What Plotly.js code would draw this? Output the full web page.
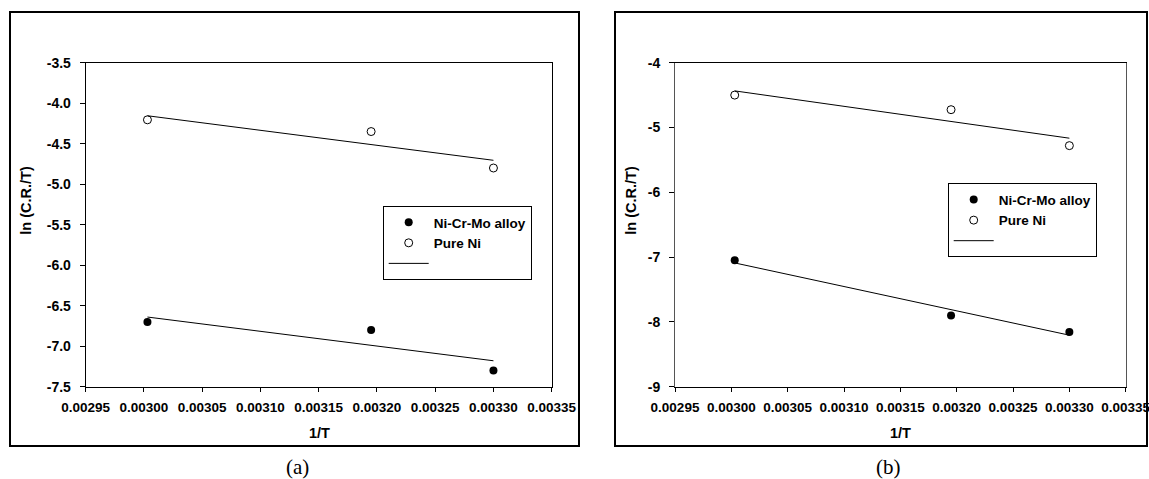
<!DOCTYPE html>
<html><head><meta charset="utf-8">
<script src="https://cdn.plot.ly/plotly-3.0.1.min.js"></script>
<style>html,body{margin:0;padding:0;background:#fff}#chart{width:1149px;height:479px}</style>
</head><body><div id="chart"></div>
<script>
// ---- data ----
const invT = [0.003003, 0.003195, 0.0033];
const fitX = [0.003003, 0.0033];
// panel (a)
const alloyA = [-6.70, -6.80, -7.30];
const pureNiA = [-4.205, -4.35, -4.80];
const fitAlloyA = [-6.64, -7.18];
const fitPureNiA = [-4.155, -4.705];
// panel (b)
const alloyB = [-7.05, -7.90, -8.155];
const pureNiB = [-4.50, -4.725, -5.28];
const fitAlloyB = [-7.09, -8.205];
const fitPureNiB = [-4.435, -5.165];
// ticks / labels
const xTickVals = [0.00295, 0.0030, 0.00305, 0.0031, 0.00315, 0.0032, 0.00325, 0.0033, 0.00335];
const xTickText = ['0.00295', '0.00300', '0.00305', '0.00310', '0.00315', '0.00320', '0.00325', '0.00330', '0.00335'];
const yTickValsA = [-7.5, -7.0, -6.5, -6.0, -5.5, -5.0, -4.5, -4.0, -3.5];
const yTickTextA = ['-7.5', '-7.0', '-6.5', '-6.0', '-5.5', '-5.0', '-4.5', '-4.0', '-3.5'];
const yTickValsB = [-9, -8, -7, -6, -5, -4];
const yTickTextB = ['-9', '-8', '-7', '-6', '-5', '-4'];
const seriesNames = ['Ni-Cr-Mo alloy', 'Pure Ni'];
const panelLabels = ['(a)', '(b)'];
const xTitle = '1/T';
const yTitle = 'ln (C.R./T)';

// ---- styling / layout ----
const W = 1149, H = 479;
const px = v => v / W;
const py = v => 1 - v / H;
const B = s => '<b>' + s + '</b>';
const SANS = 'Liberation Sans, Arial, sans-serif';
const SERIF = 'Liberation Serif, Times New Roman, serif';

function panelTraces(alloy, pure, fitAlloy, fitPure, xa, ya, lg) {
  return [
    {x: invT, y: alloy, xaxis: xa, yaxis: ya, legend: lg, name: B(seriesNames[0]), type: 'scatter', mode: 'markers',
     marker: {symbol: 'circle', size: 8, color: '#000', line: {width: 0}}},
    {x: invT, y: pure, xaxis: xa, yaxis: ya, legend: lg, name: B(seriesNames[1]), type: 'scatter', mode: 'markers',
     marker: {symbol: 'circle-open', size: 8, color: '#000', line: {width: 1}}},
    {x: fitX, y: fitAlloy, xaxis: xa, yaxis: ya, legend: lg, name: ' ', type: 'scatter', mode: 'lines',
     line: {color: '#000', width: 1}},
    {x: fitX, y: fitPure, xaxis: xa, yaxis: ya, legend: lg, showlegend: false, type: 'scatter', mode: 'lines',
     line: {color: '#000', width: 1}}
  ];
}

const data = [
  ...panelTraces(alloyA, pureNiA, fitAlloyA, fitPureNiA, 'x', 'y', 'legend'),
  ...panelTraces(alloyB, pureNiB, fitAlloyB, fitPureNiB, 'x2', 'y2', 'legend2')
];

const tickFont = {family: SANS, size: 14, color: '#000'};
function xAxis(domain, anchor) {
  return {domain, anchor, range: [0.00295, 0.00335], tickmode: 'array', tickvals: xTickVals, ticktext: xTickText.map(B),
    showline: true, mirror: true, linecolor: '#000', linewidth: 1, ticks: 'outside', ticklen: 4, tickcolor: '#000',
    showgrid: false, zeroline: false, automargin: false, tickfont: {...tickFont, size: 13.5}, ticklabelstandoff: 4,
    ticklabeloverflow: 'allow', fixedrange: true};
}
function yAxis(domain, anchor, range, vals, text, lc) {
  return {domain, anchor, range, tickmode: 'array', tickvals: vals, ticktext: text.map(B),
    showline: true, mirror: true, linecolor: lc, linewidth: 1, ticks: 'outside', ticklen: 5, tickcolor: '#000',
    showgrid: false, zeroline: false, automargin: false, tickfont: tickFont, ticklabelstandoff: 6,
    ticklabeloverflow: 'allow', fixedrange: true};
}

const legendBase = {xanchor: 'left', yanchor: 'top', bgcolor: '#fff', bordercolor: '#000', borderwidth: 1,
  font: {family: SANS, size: 13.5, color: '#000'}, tracegroupgap: 0, itemwidth: 40};

const titleFont = {family: SANS, size: 14.5, color: '#000'};
const layout = {
  width: W, height: H, margin: {l: 0, r: 0, t: 0, b: 0}, paper_bgcolor: '#fff', plot_bgcolor: '#fff',
  showlegend: true,
  xaxis: xAxis([px(85.7), px(551.7)], 'y'),
  yaxis: yAxis([py(386.7), py(62.7)], 'x', [-7.5, -3.5], yTickValsA, yTickTextA, '#000'),
  xaxis2: xAxis([px(675), px(1125.7)], 'y2'),
  yaxis2: yAxis([py(386.7), py(62.7)], 'x2', [-9, -4], yTickValsB, yTickTextB, '#555'),
  legend: {...legendBase, x: px(382.7), y: py(206)},
  legend2: {...legendBase, x: px(947.7), y: py(183.3)},
  shapes: [
    {type: 'rect', xref: 'paper', yref: 'paper', x0: px(10), x1: px(579), y0: py(446), y1: py(12), line: {color: '#000', width: 2}},
    {type: 'rect', xref: 'paper', yref: 'paper', x0: px(615), x1: px(1147), y0: py(446), y1: py(12), line: {color: '#000', width: 2}}
  ],
  annotations: [
    {text: B(yTitle), xref: 'paper', yref: 'paper', x: px(25.7), y: py(200), textangle: -90, showarrow: false,
     xanchor: 'center', yanchor: 'middle', font: titleFont},
    {text: B(yTitle), xref: 'paper', yref: 'paper', x: px(630.7), y: py(200), textangle: -90, showarrow: false,
     xanchor: 'center', yanchor: 'middle', font: titleFont},
    {text: B(xTitle), xref: 'paper', yref: 'paper', x: px(319), y: py(433.3), showarrow: false,
     xanchor: 'center', yanchor: 'middle', font: titleFont},
    {text: B(xTitle), xref: 'paper', yref: 'paper', x: px(900.5), y: py(433.3), showarrow: false,
     xanchor: 'center', yanchor: 'middle', font: titleFont},
    {text: panelLabels[0], xref: 'paper', yref: 'paper', x: px(297), y: py(466.5), showarrow: false,
     xanchor: 'center', yanchor: 'middle', font: {family: SERIF, size: 21, color: '#000'}},
    {text: panelLabels[1], xref: 'paper', yref: 'paper', x: px(888), y: py(466.5), showarrow: false,
     xanchor: 'center', yanchor: 'middle', font: {family: SERIF, size: 21, color: '#000'}}
  ]
};

Plotly.newPlot('chart', data, layout, {displayModeBar: false, staticPlot: true});
</script>
</body></html>
